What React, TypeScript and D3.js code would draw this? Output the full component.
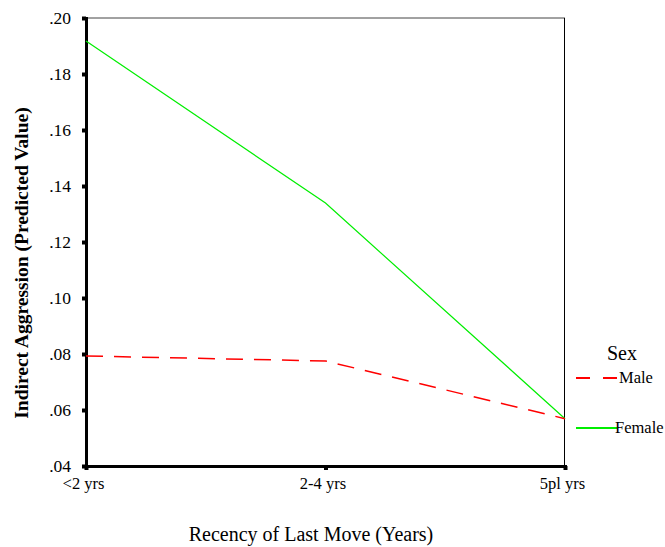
import React, { useEffect, useRef } from 'react';
import * as d3 from 'd3';

const categories = ['<2 yrs', '2-4 yrs', '5pl yrs'];
const yTicks = [0.04, 0.06, 0.08, 0.10, 0.12, 0.14, 0.16, 0.18, 0.20];
const maleValues = [0.0793, 0.0775, 0.0569];
const femaleValues = [0.1918, 0.1339, 0.0569];
const seriesNames = ['Male', 'Female'];

export default function App() {
    const ref = useRef<SVGSVGElement>(null);

    useEffect(() => {
        const svg = d3.select(ref.current);
        svg.selectAll('*').remove();
        const font = "'Liberation Serif', 'DejaVu Serif', serif";
        const left = 86, right = 565, top = 18, bottom = 466;

        const x = d3.scalePoint<string>().domain(categories).range([left, right]);
        const y = d3.scaleLinear().domain([0.04, 0.20]).range([bottom, top]);

        // frame: top and right thin, left and bottom thick
        svg.append('line').attr('x1', left).attr('x2', right).attr('y1', top).attr('y2', top)
            .attr('stroke', '#444').attr('stroke-width', 1);
        svg.append('line').attr('x1', right - 0.5).attr('x2', right - 0.5).attr('y1', top).attr('y2', bottom)
            .attr('stroke', '#000').attr('stroke-width', 1);

        const yAxis = d3.axisLeft(y).tickValues(yTicks).tickSize(4).tickPadding(11)
            .tickFormat(d => d3.format('.2f')(d as number).replace(/^0/, ''));
        const gy = svg.append('g').attr('transform', 'translate(' + left + ',0)').call(yAxis);
        gy.attr('font-family', font).attr('font-size', 17.5);
        gy.select('.domain').attr('stroke-width', 3);
        gy.selectAll('.tick line').attr('stroke-width', 4);
        gy.selectAll('text').attr('fill', '#000');

        const xAxis = d3.axisBottom(x).tickSize(4).tickPadding(7);
        const gx = svg.append('g').attr('transform', 'translate(0,' + bottom + ')').call(xAxis);
        gx.attr('font-family', font).attr('font-size', 16.5);
        gx.select('.domain').attr('stroke-width', 3);
        gx.selectAll('.tick line').attr('stroke-width', 4);
        gx.selectAll('text').attr('fill', '#000').attr('dx', -3);

        const line = d3.line<number>()
            .x((_, i) => x(categories[i]) as number)
            .y(d => y(d));

        svg.append('path').datum(femaleValues).attr('d', line)
            .attr('fill', 'none').attr('stroke', '#00ee00').attr('stroke-width', 1.2);
        svg.append('path').datum(maleValues).attr('d', line)
            .attr('fill', 'none').attr('stroke', '#ff0000').attr('stroke-width', 1.5)
            .attr('stroke-dasharray', '17,11');

        const g = svg.append('g').attr('font-family', font);

        // legend
        g.append('text').attr('x', 607).attr('y', 360).text('Sex').attr('font-size', 20);
        const legend = [
            { name: seriesNames[0], color: '#ff0000', dash: '14,13', y: 378 },
            { name: seriesNames[1], color: '#00ee00', dash: null, y: 428 },
        ];
        legend.forEach(l => {
            g.append('line').attr('x1', 576).attr('x2', 617).attr('y1', l.y).attr('y2', l.y)
                .attr('stroke', l.color).attr('stroke-width', 1.8)
                .attr('stroke-dasharray', l.dash);
            g.append('text').attr('x', l.name === 'Male' ? 619 : 615).attr('y', l.y + 5).text(l.name)
                .attr('font-size', 16.5);
        });

        // axis titles
        g.append('text').attr('transform', 'translate(28,263) rotate(-90)')
            .attr('text-anchor', 'middle').attr('font-size', 19.5)
            .attr('font-weight', 'bold').text('Indirect Aggression (Predicted Value)');
        g.append('text').attr('x', 311).attr('y', 541).attr('text-anchor', 'middle')
            .attr('font-size', 20).text('Recency of Last Move (Years)');
    }, []);

    return (
        <svg ref={ref} width={665} height={547}
            style={{ position: 'absolute', left: 0, top: 0, background: '#fff' }} />
    );
}
